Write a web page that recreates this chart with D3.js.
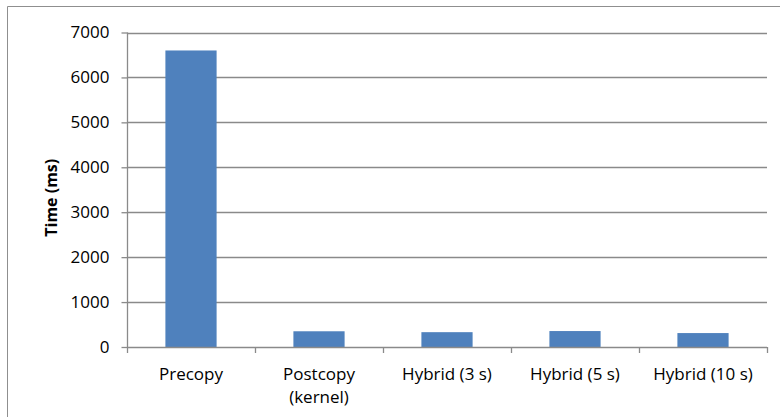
<!DOCTYPE html>
<html>
<head>
<meta charset="utf-8">
<script src="https://cdn.jsdelivr.net/npm/d3@7"></script>
<style>
  html, body { margin: 0; padding: 0; background: #fff; }
  svg text { font-family: "Open Sans", "DejaVu Sans", sans-serif; fill: #000; }
</style>
</head>
<body>
<svg id="chart" width="780" height="417"></svg>
<script>
// Migration time per strategy
const categories = [["Precopy"], ["Postcopy", "(kernel)"], ["Hybrid (3 s)"], ["Hybrid (5 s)"], ["Hybrid (10 s)"]];
const times = [6600, 350, 330, 355, 310];
const yTicks = [0, 1000, 2000, 3000, 4000, 5000, 6000, 7000];
const yTitle = "Time (ms)";

const svg = d3.select("#chart");
const margin = { left: 127, right: 13, top: 32.5, bottom: 70 };
const W = 780, H = 417;
const FS = 17;

// chart area frame (left and top edges)
svg.append("path")
  .attr("d", `M7.5,417 V6.5 H780`)
  .attr("fill", "none").attr("stroke", "#8f8f8f").attr("stroke-width", 1);

const x = d3.scaleBand()
  .domain(d3.range(categories.length))
  .range([margin.left, W - margin.right])
  .paddingInner(0.6).paddingOuter(0.3);

const y = d3.scaleLinear().domain([0, 7000]).range([347, margin.top]);

// horizontal gridlines
svg.append("g").selectAll("line").data(yTicks.filter(d => d > 0)).join("line")
  .attr("x1", margin.left).attr("x2", W - margin.right)
  .attr("y1", d => Math.round(y(d)) + 0.5).attr("y2", d => Math.round(y(d)) + 0.5)
  .attr("stroke", "#8a8a8a").attr("stroke-width", 1.3);

// bars
svg.append("g").selectAll("rect").data(times).join("rect")
  .attr("x", (d, i) => x(i))
  .attr("width", x.bandwidth())
  .attr("y", d => y(d))
  .attr("height", d => y(0) - y(d))
  .attr("fill", "#4f81bd");

// y axis
const yAxis = svg.append("g")
  .attr("transform", `translate(${margin.left + 0.5},0)`)
  .call(d3.axisLeft(y).tickValues(yTicks).tickFormat(d3.format("d")).tickSize(6).tickPadding(12));
yAxis.selectAll("path, line").attr("stroke", "#8a8a8a").attr("stroke-width", 1.3);
yAxis.select(".domain").attr("d", `M0,${y(7000)}V${y(0)}`);
yAxis.selectAll("text").attr("font-size", FS).attr("font-family", "'Open Sans', sans-serif").attr("fill", "#000");

// x axis: tick marks at category boundaries
const edges = d3.range(categories.length + 1).map(i => margin.left + i * (W - margin.right - margin.left) / categories.length);
const xg = svg.append("g");
xg.append("line")
  .attr("x1", margin.left).attr("x2", W - margin.right)
  .attr("y1", Math.round(y(0)) + 0.5).attr("y2", Math.round(y(0)) + 0.5)
  .attr("stroke", "#8a8a8a").attr("stroke-width", 1.3);
xg.selectAll("line.tick").data(edges).join("line").attr("class", "tick")
  .attr("x1", d => Math.round(d) + 0.5).attr("x2", d => Math.round(d) + 0.5)
  .attr("y1", y(0)).attr("y2", y(0) + 6)
  .attr("stroke", "#8a8a8a").attr("stroke-width", 1.3);

// category labels (one text element per line)
const labelGroups = svg.append("g").selectAll("g").data(categories).join("g")
  .attr("transform", (d, i) => `translate(${x(i) + x.bandwidth() / 2},0)`);
labelGroups.selectAll("text").data(d => d).join("text")
  .attr("text-anchor", "middle")
  .attr("font-size", FS)
  .attr("y", (d, i) => 380 + i * 23)
  .text(d => d);

// y axis title
svg.append("text")
  .attr("transform", `translate(57,${(y(0) + y(7000)) / 2 + 8}) rotate(-90)`)
  .attr("text-anchor", "middle")
  .attr("font-size", 16)
  .attr("font-weight", "bold")
  .text(yTitle);
</script>
</body>
</html>
